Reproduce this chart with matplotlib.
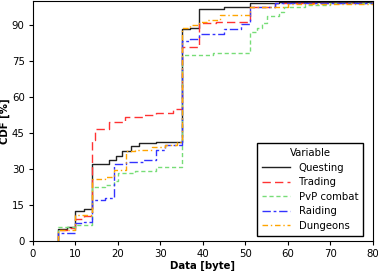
import numpy as np
import matplotlib
matplotlib.use('Agg')
from matplotlib import pyplot as plt

# step CDF values (x in byte, y in %)
quest_x = [6, 6, 8, 10, 12, 14, 18, 19.5, 21, 23, 25, 29, 35, 37, 39, 45, 51, 58, 80]
quest_y = [0, 5, 6, 12.5, 13.3, 32.2, 33.5, 35.3, 37.5, 39.5, 40.7, 41.3, 88, 88.7, 96.5, 97.3, 99, 99.5, 100]

trade_x = [6, 6, 8, 10, 12, 14, 14.6, 18, 21.7, 26, 29, 33, 35, 39, 43, 51, 57, 80]
trade_y = [0, 4.5, 5.5, 9, 10.2, 42, 46.5, 49.5, 51.6, 52.5, 53.2, 54.8, 80.5, 90.6, 91.2, 97.5, 99, 100]

pvp_x = [6, 6, 10, 14, 17, 19, 20, 24, 29, 35, 42.5, 51, 52.8, 54, 55.2, 58, 59.2, 64, 70, 80]
pvp_y = [0, 6, 6.5, 22.3, 23.5, 25, 28.1, 29, 30.6, 77.5, 78.3, 87, 88.5, 90.5, 93.8, 95.2, 97.5, 98.3, 99, 100]

raid_x = [6, 6, 10, 12, 14, 17, 19, 22, 26, 29, 31, 35, 37, 39, 45, 49, 51, 57, 80]
raid_y = [0, 3.4, 7.3, 8, 16.9, 18, 32.2, 33, 33.5, 38, 40, 83.2, 84, 86.2, 88.2, 90.3, 97.5, 99, 100]

dung_x = [6, 6, 10, 14, 17, 19, 22, 24, 28, 31, 34, 35, 37, 39, 41, 44, 51, 60, 80]
dung_y = [0, 4.6, 10.8, 25.6, 26.5, 29.7, 37.3, 38, 39, 40, 41, 88.6, 90, 91, 92, 94, 97.5, 98.5, 100]

names = ['Questing', 'Trading', 'PvP combat', 'Raiding', 'Dungeons']

fs = 7.3
fig = plt.figure(figsize=(3.78, 2.71), dpi=100)
ax = fig.add_axes([0.0873, 0.1107, 0.8987, 0.887])

ax.plot(quest_x, quest_y, drawstyle='steps-post', color='#222222', lw=1.0, label=names[0])
ax.plot(trade_x, trade_y, drawstyle='steps-post', color='#ff3333', lw=1.0, dashes=(6, 3), label=names[1])
ax.plot(pvp_x, pvp_y, drawstyle='steps-post', color='#77dd77', lw=1.0, dashes=(3, 2), label=names[2])
ax.plot(raid_x, raid_y, drawstyle='steps-post', color='#3333ff', lw=1.0, dashes=(6, 2, 2, 2), label=names[3])
ax.plot(dung_x, dung_y, drawstyle='steps-post', color='#ffa500', lw=1.0, dashes=(4, 2, 1, 2), label=names[4])

ax.set_xlim(0, 80)
ax.set_ylim(0, 100)
ax.set_xticks(np.arange(0, 81, 10))
ax.set_yticks(np.arange(0, 91, 15))
ax.tick_params(labelsize=fs, length=3, pad=3, top=False, right=False)
ax.set_xlabel('Data [byte]', fontsize=fs, fontweight='bold', labelpad=1)
ax.set_ylabel('CDF [%]', fontsize=fs, fontweight='bold', labelpad=1)

leg = ax.legend(title='Variable', fontsize=fs, title_fontsize=fs, loc='lower right',
                bbox_to_anchor=(0.987, 0.0), fancybox=False, edgecolor='black',
                framealpha=1, handlelength=2.8, borderpad=0.5, labelspacing=0.45)
leg.get_frame().set_linewidth(1.0)

fig.savefig('out.png', dpi=100)
